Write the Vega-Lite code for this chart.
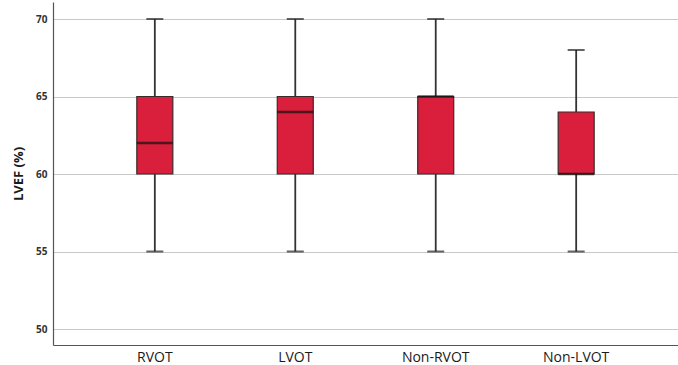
{
  "$schema": "https://vega.github.io/schema/vega-lite/v6.json",
  "width": 625,
  "height": 343,
  "autosize": {"type": "none"},
  "padding": {"left": 53, "top": 2, "right": 0, "bottom": 20},
  "background": "white",
  "config": {
    "view": {"stroke": null},
    "font": "Open Sans"
  },
  "data": {
    "values": [
      {"group": "RVOT", "min": 55, "q1": 60, "median": 62, "q3": 65, "max": 70},
      {"group": "LVOT", "min": 55, "q1": 60, "median": 64, "q3": 65, "max": 70},
      {"group": "Non-RVOT", "min": 55, "q1": 60, "median": 65, "q3": 65, "max": 70},
      {"group": "Non-LVOT", "min": 55, "q1": 60, "median": 60, "q3": 64, "max": 68}
    ]
  },
  "encoding": {
    "x": {
      "field": "group",
      "type": "nominal",
      "sort": null,
      "scale": {"paddingInner": 0, "paddingOuter": 0.225},
      "axis": {
        "title": null,
        "labelAngle": 0,
        "ticks": false,
        "labelFontSize": 14,
        "labelColor": "#1a1a1a",
        "labelPadding": 5,
        "domainColor": "#555555",
        "domainWidth": 1.2,
        "grid": false
      }
    }
  },
  "layer": [
    {
      "mark": {"type": "rule", "color": "#333333", "strokeWidth": 1.8},
      "encoding": {
        "y": {
          "field": "min",
          "type": "quantitative",
          "scale": {"domain": [48.968, 71.097], "nice": false, "zero": false},
          "axis": {
            "values": [50, 55, 60, 65, 70],
            "title": "LVEF (%)",
            "titleFontSize": 13,
            "titleFontWeight": "bold",
            "titleColor": "#1a1a1a",
            "titlePadding": 10,
            "labelFontSize": 10,
            "labelFontWeight": "bold",
            "labelColor": "#333333",
            "labelPadding": 6,
            "ticks": false,
            "grid": true,
            "gridColor": "#c8c8c8",
            "gridWidth": 1.2,
            "domainColor": "#555555",
            "domainWidth": 1.2
          }
        },
        "y2": {"field": "max"}
      }
    },
    {
      "mark": {"type": "tick", "color": "#222222", "size": 17, "thickness": 2},
      "encoding": {"y": {"field": "max", "type": "quantitative"}}
    },
    {
      "mark": {"type": "tick", "color": "#222222", "size": 17, "thickness": 2},
      "encoding": {"y": {"field": "min", "type": "quantitative"}}
    },
    {
      "mark": {"type": "bar", "size": 36, "color": "#d91f3c", "stroke": "#3a2a2a", "strokeWidth": 1.2},
      "encoding": {
        "y": {"field": "q1", "type": "quantitative"},
        "y2": {"field": "q3"}
      }
    },
    {
      "mark": {"type": "tick", "color": "#111111", "size": 36, "thickness": 2.5},
      "encoding": {"y": {"field": "median", "type": "quantitative"}}
    }
  ]
}
